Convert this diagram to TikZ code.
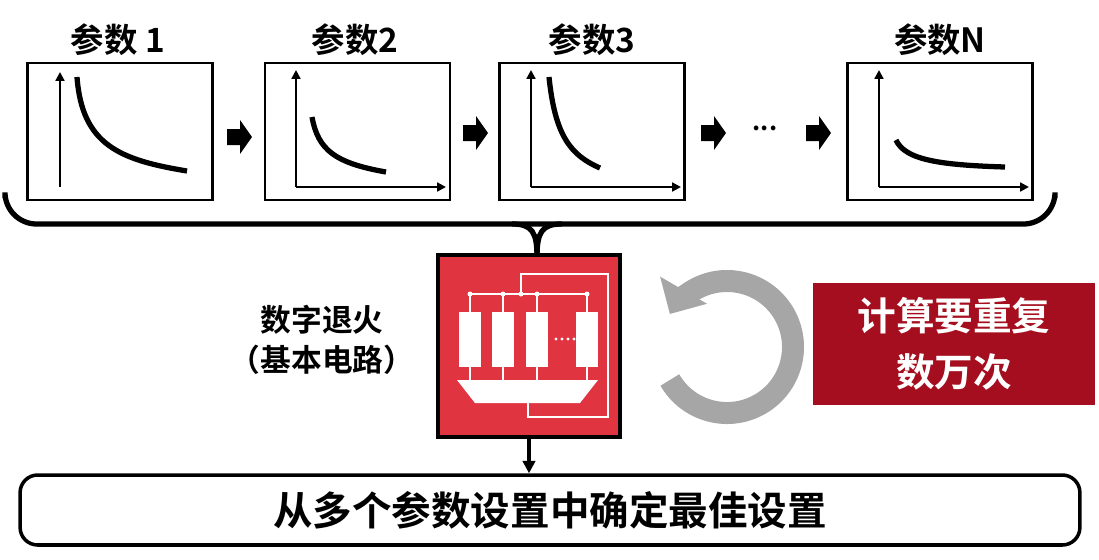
\documentclass[tikz,border=0pt]{standalone}
\usepackage{fontspec}
\setmainfont{Noto Sans CJK SC}[BoldFont={Noto Sans CJK SC Bold}]
\usetikzlibrary{arrows.meta}
\definecolor{chipred}{HTML}{E03440}
\definecolor{darkred}{HTML}{A50E1E}
\definecolor{loopgray}{HTML}{A6A6A6}
\begin{document}
\begin{tikzpicture}[x=0.02cm, y=-0.02cm,
    panel/.style={draw, line width=1.5pt, minimum width=3.7cm, minimum height=2.74cm, inner sep=0pt},
    title/.style={font=\fontsize{19}{22}\selectfont\bfseries},
    label/.style={font=\fontsize{17.5}{21}\selectfont\bfseries},
    curve/.style={line width=3pt},
    axis/.style={line width=1.2pt, -{Triangle[length=5pt,width=5pt]}},
    wire/.style={white, line width=1.3pt}
  ]
  \useasboundingbox (0,0) rectangle (1099,559);
  % parameter panels
  \node[panel] (p1) at (120,131.5) {};
  \node[panel] (p2) at (357.5,131.5) {};
  \node[panel] (p3) at (592,131.5) {};
  \node[panel] (pn) at (940,131.5) {};
  \node[title] (t1) at (118,40) {参数 1};
  \node[title] (t2) at (355,40) {参数2};
  \node[title] (t3) at (592,40) {参数3};
  \node[title] (tn) at (940,40) {参数N};
  % curves
  \draw[axis] (60,187) -- (60,72);
  \draw[curve] (77,77) .. controls (82,145) and (120,160) .. (187,171);
  \foreach \x in {296,531,879} {
    \draw[axis] (\x,187) -- (\x,70);
    \draw[axis] (\x,187) -- (\x+150,187);
  }
  \draw[curve] (312,117) .. controls (318,150) and (335,163) .. (386,172);
  \draw[curve] (549,77) .. controls (555,135) and (570,155) .. (600,168);
  \draw[curve] (896,140) .. controls (905,160) and (940,165) .. (1005,167);
  % step arrows
  \foreach \x/\y in {227/137, 463/133, 701/133, 806/133}
    \fill (\x,\y-8) -- (\x+13,\y-8) -- (\x+13,\y-17) -- (\x+25,\y) -- (\x+13,\y+17) -- (\x+13,\y+8) -- (\x,\y+8) -- cycle;
  \node[font=\Large\bfseries] (dots) at (765,128) {...};
  % brace
  \coordinate (bm) at (537,257);
  \draw[line width=3pt, rounded corners=18] (5,198) -- (5,224) -- (1055,224) -- (1055,198);
  \draw[line width=3pt] (512,224) .. controls (532,224) and (537,232) .. (bm);
  \draw[line width=3pt] (562,224) .. controls (542,224) and (537,232) .. (bm);
  % annealing chip
  \node[draw, fill=chipred, line width=2.5pt, minimum size=3.64cm, inner sep=0pt] (chip) at (529,346) {};
  \foreach \x in {470,503,537,587} {
    \fill[white] (\x-11,312) rectangle (\x+11,367);
    \draw[wire] (\x,294) -- (\x,312);
    \draw[wire] (\x,367) -- (\x,381);
    \fill[white] (\x,294) circle (2.5);
  }
  \draw[wire] (470,294) -- (587,294);
  \draw[wire] (521,294) -- (521,274) -- (608,274) -- (608,417) -- (528,417) -- (528,403);
  \fill[white] (521,294) circle (2.5);
  \fill[white] (457,380) -- (598,380) -- (580,403) -- (475,403) -- cycle;
  \foreach \x in {556,562,568,574} \fill[white] (\x,339) circle (1.6);
  % labels
  \node[label] (lab1) at (322,320) {数字退火};
  \node[label] (lab2) at (322,360) {（基本电路）};
  % loop
  \draw[loopgray, line width=0.44cm, -{Triangle[length=0.55cm,width=1.05cm]}] (727,347) ++(150:66) arc[start angle=150, end angle=-150, radius=66];
  \node[fill=darkred, text=white, minimum width=5.66cm, minimum height=2.44cm, align=center, font=\fontsize{22}{32}\selectfont\bfseries] (repeat) at (954,344) {计算要重复\\数万次};
  % result
  \node[draw, line width=2pt, rounded corners=10, minimum width=21.2cm, minimum height=1.4cm, font=\fontsize{22.5}{26}\selectfont\bfseries] (result) at (550,510) {从多个参数设置中确定最佳设置};
  \draw[line width=2pt, -{Triangle[length=7pt,width=7pt]}] (chip.south) -- (result.north -| chip.south);
\end{tikzpicture}
\end{document}
